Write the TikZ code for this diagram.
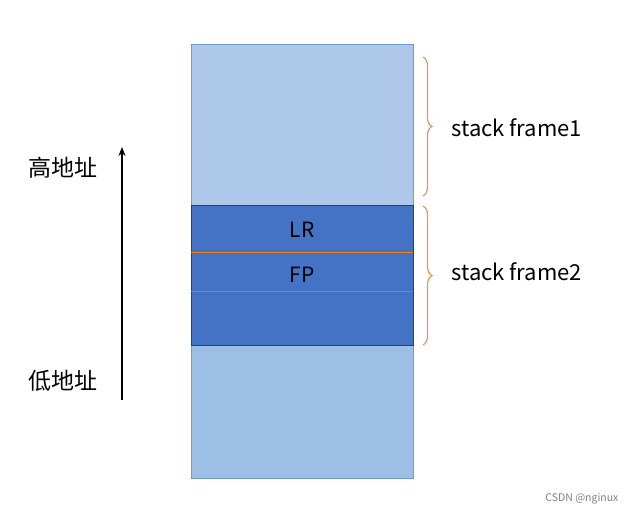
\documentclass[tikz,border=0pt]{standalone}
\usepackage{fontspec}
\setmainfont{Noto Sans CJK SC}
\usetikzlibrary{decorations.pathreplacing, arrows.meta}
\definecolor{lightcell}{HTML}{ADC8E8}
\definecolor{lowcell}{HTML}{9DBEE5}
\definecolor{darkcell}{HTML}{4472C4}
\definecolor{cellborder}{HTML}{6A9BD8}
\definecolor{bracecol}{HTML}{E9965C}
\begin{document}
\begin{tikzpicture}[x=1pt, y=-1pt, >={Stealth[length=9pt, width=7pt]}]
    \useasboundingbox (0,0) rectangle (635,516);

    \fill[lightcell] (191,44) rectangle (413,205);
    \fill[darkcell] (191,205) rectangle (413,345);
    \fill[lowcell] (191,345) rectangle (413,478);
    \draw[cellborder, line width=0.6pt] (191,44) rectangle (413,478);
    \draw[red!80!black, line width=0.6pt] (191,205) rectangle (413,345);
    \draw[orange, line width=0.8pt] (191,252) -- (413,252);
    \draw[orange!60!darkcell, line width=0.6pt] (191,291) -- (413,291);

    \node (lr) at (302,230) {\fontsize{21}{21}\selectfont LR};
    \node (fp) at (302,275) {\fontsize{21}{21}\selectfont FP};

    \coordinate (low) at (122,400);
    \coordinate (high) at (122,147);
    \draw[->, line width=1.6pt] (low) -- (high);
    \node (highaddr) at (63,168) {\fontsize{23}{23}\selectfont 高地址};
    \node (lowaddr) at (63,381) {\fontsize{23}{23}\selectfont 低地址};

    \coordinate (b1top) at (423,57);
    \coordinate (b1bot) at (423,196);
    \coordinate (b2top) at (423,206);
    \coordinate (b2bot) at (423,345);
    \draw[bracecol, line width=1.2pt, decoration={brace, amplitude=9pt}, decorate] (b1top) -- (b1bot);
    \draw[bracecol, line width=1.2pt, decoration={brace, amplitude=9pt}, decorate] (b2top) -- (b2bot);
    \node[anchor=west] (frame1) at (448,128) {\fontsize{22}{22}\selectfont stack frame1};
    \node[anchor=west] (frame2) at (448,272) {\fontsize{22}{22}\selectfont stack frame2};

    \node[anchor=east, gray] (mark) at (622,499) {\fontsize{10.5}{10.5}\selectfont CSDN @nginux};
\end{tikzpicture}
\end{document}
